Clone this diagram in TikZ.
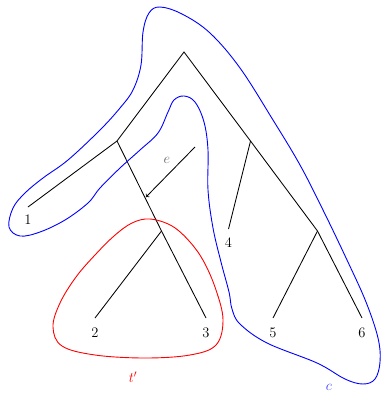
\documentclass[tikz,border=0pt]{standalone}
\begin{document}
\begin{tikzpicture}[x=1pt,y=-1pt,
  edge/.style={draw=black,line width=0.85pt},
  lbl/.style={inner sep=0pt,font=\fontsize{14.5}{16}\selectfont},
  region/.style={line width=0.9pt}]
\useasboundingbox (0,0) rectangle (381,393);
% internal nodes
\coordinate (r) at (184,52);
\coordinate (a) at (117,141);
\coordinate (c) at (250.5,141);
\coordinate (b) at (161.5,231);
\coordinate (d) at (317.5,231);
% leaves
\coordinate (l1) at (28,207);
\coordinate (l2) at (95,318);
\coordinate (l3) at (206,318);
\coordinate (l4) at (228.5,229);
\coordinate (l5) at (273,318);
\coordinate (l6) at (362,318);
\node[lbl] (n1) at (28,220) {1};
\node[lbl] (n2) at (95,333) {2};
\node[lbl] (n3) at (206,333) {3};
\node[lbl] (n4) at (228.5,243) {4};
\node[lbl] (n5) at (273,333) {5};
\node[lbl] (n6) at (362,333) {6};
% tree edges
\draw[edge] (a) -- (r) -- (c) -- (d) -- (l6);
\draw[edge] (a) -- (l1);
\draw[edge] (a) -- (b) -- (l3);
\draw[edge] (b) -- (l2);
\draw[edge] (c) -- (l4);
\draw[edge] (d) -- (l5);
% arrow e
\coordinate (es) at (195,147);
\coordinate (ee) at (146,197);
\draw[edge,->] (es) -- (ee);
\node[lbl,text=black!60] (e) at (167,160) {$e$};
% blue region c
\draw[region,blue] plot[smooth cycle,tension=0.6] coordinates {
 (160,7) (182,14) (210,33) (240,68) (273,120) (300,165) (323,210) (347,260)
 (366,302) (378,338) (380,362) (375,379) (363,384) (345,379) (317,363)
 (267,343) (240,324) (232,309) (229,292) (221,262) (213,228)
 (208,190) (208,150) (204,122) (195,102) (184,96) (174,100) (168,112)
 (158,133) (140,150) (120,168) (100,188) (88,203) (65,220) (40,232)
 (20,236) (9,227) (13,208) (25,193) (43,178) (68,160) (100,130)
 (120,108) (133,90) (141,65) (143,32) (149,13)};
% red region t'
\draw[region,red] plot[smooth cycle,tension=0.6] coordinates {
 (150,219) (172,226) (190,242) (204,262) (216,290) (223,320) (216,345)
 (190,355) (145,358) (95,355) (62,346) (53,327) (60,303) (76,277)
 (95,255) (114,236) (132,223)};
\node[lbl,text=red] (tl) at (133,377) {$t'$};
\node[lbl,text=blue!75] (cl) at (329,387) {$c$};
\end{tikzpicture}
\end{document}
